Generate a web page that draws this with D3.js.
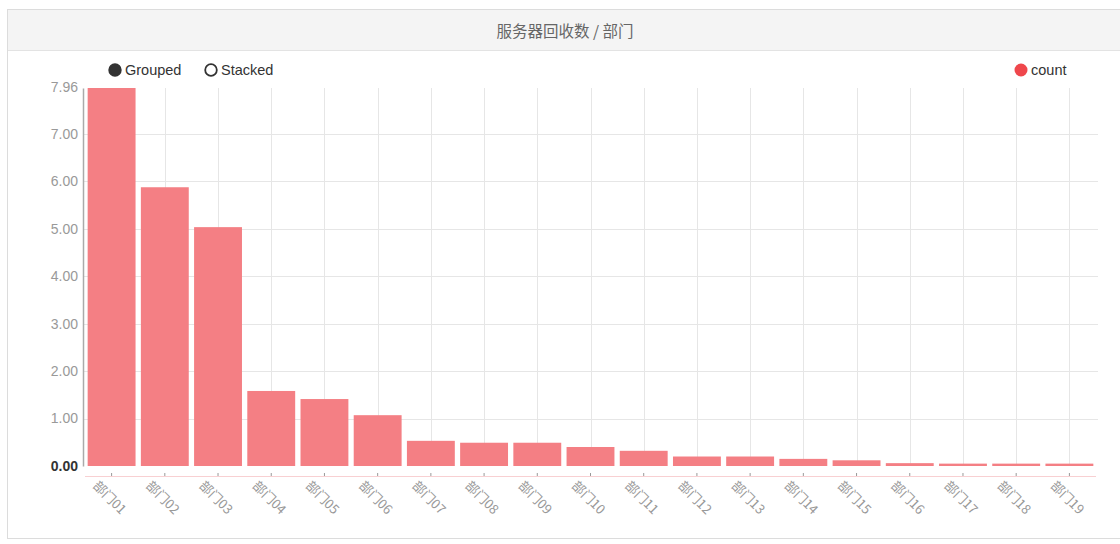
<!DOCTYPE html>
<html>
<head>
<meta charset="utf-8">
<script src="https://cdn.jsdelivr.net/npm/d3@7"></script>
<style>
  body { margin: 0; background: #fff; font-family: "Liberation Sans", Arial, sans-serif; }
</style>
</head>
<body>
<div id="holder"></div>
<script>
const w = 1120;
const h = 544;

// Data (department names are redacted in the source, placeholders used)
const departments = ["部门01", "部门02", "部门03", "部门04", "部门05", "部门06", "部门07",
  "部门08", "部门09", "部门10", "部门11", "部门12", "部门13", "部门14", "部门15",
  "部门16", "部门17", "部门18", "部门19"];
const counts = [7.96, 5.87, 5.03, 1.58, 1.41, 1.07, 0.53, 0.49, 0.49, 0.40,
  0.32, 0.20, 0.20, 0.15, 0.12, 0.06, 0.05, 0.05, 0.05];
const yTicks = [0, 1, 2, 3, 4, 5, 6, 7];
const seriesName = "count";
const title = "服务器回收数 / 部门";

const svg = d3.select("#holder")
  .append("svg")
  .attr("width", w)
  .attr("height", h)

// Panel + header
svg.append("rect")
  .attr("x", 7.5).attr("y", 9.5)
  .attr("width", 1130).attr("height", 529)
  .attr("fill", "#fff")
  .attr("stroke", "#dcdcdc")

svg.append("rect")
  .attr("x", 8).attr("y", 10)
  .attr("width", 1130).attr("height", 40)
  .attr("fill", "#f4f4f4")

svg.append("line")
  .attr("x1", 8).attr("x2", 1138)
  .attr("y1", 50.5).attr("y2", 50.5)
  .attr("stroke", "#e3e3e3")

svg.append("text")
  .attr("x", 565).attr("y", 37)
  .attr("text-anchor", "middle")
  .style("font-family", "'Noto Sans CJK SC', sans-serif")
  .style("font-size", "15.5px")
  .attr("fill", "#666")
  .text(title)

// Scales
const x = d3.scaleBand()
  .domain(departments)
  .range([85, 1096])
  .paddingInner(0.1)
  .paddingOuter(0.05)

const y = d3.scaleLinear()
  .domain([0, d3.max(counts)])
  .range([466, 88])

// Grid lines
svg.append("g")
  .selectAll("line")
  .data(yTicks.filter(t => t > 0))
  .join("line")
  .attr("x1", 84).attr("x2", 1098)
  .attr("y1", d => Math.round(y(d)) + 0.5)
  .attr("y2", d => Math.round(y(d)) + 0.5)
  .attr("stroke", "#e6e6e6")

svg.append("g")
  .selectAll("line")
  .data(departments)
  .join("line")
  .attr("x1", d => Math.round(x(d) + x.bandwidth() / 2) + 0.5)
  .attr("x2", d => Math.round(x(d) + x.bandwidth() / 2) + 0.5)
  .attr("y1", 88).attr("y2", 466)
  .attr("stroke", "#e6e6e6")

// Y axis
const yAxis = d3.axisLeft(y)
  .tickValues(yTicks)
  .tickSize(0)
  .tickPadding(5)
  .tickFormat(d3.format(".2f"))

svg.append("g")
  .attr("transform", "translate(83,0)")
  .call(yAxis)
  .call(g => g.select(".domain").attr("stroke", "#aaa").attr("stroke-width", 1.5))
  .call(g => g.selectAll("text")
    .style("font-size", "14px")
    .style("font-family", "'Liberation Sans', Arial, sans-serif")
    .attr("fill", "#999"))
  .call(g => g.selectAll(".tick").filter(d => d === 0).select("text")
    .attr("fill", "#333").style("font-weight", "bold"))

// max label at top
svg.append("text")
  .attr("x", 78).attr("y", y(d3.max(counts)))
  .attr("dy", "0.32em")
  .attr("text-anchor", "end")
  .style("font-size", "14px")
  .attr("fill", "#999")
  .text(d3.format(".2f")(d3.max(counts)))

// Bars
svg.append("g")
  .selectAll("rect")
  .data(counts)
  .join("rect")
  .attr("x", (d, i) => x(departments[i]))
  .attr("y", d => y(d))
  .attr("width", x.bandwidth())
  .attr("height", d => y(0) - y(d))
  .attr("fill", "#f47f84")

// X axis
const xAxis = d3.axisBottom(x)
  .tickSize(3)
  .tickPadding(4)

svg.append("g")
  .attr("transform", "translate(0,473)")
  .call(xAxis)
  .call(g => g.select(".domain").attr("stroke", "#f8d0d2").attr("d", "M85,3.5H1096"))
  .call(g => g.selectAll(".tick line").attr("stroke", "#999"))
  .call(g => g.selectAll("text")
    .style("font-family", "'Noto Sans CJK SC', sans-serif")
    .style("font-size", "13px")
    .attr("fill", "#999")
    .attr("text-anchor", "start")
    .attr("transform", "translate(-8,2) rotate(45)"))

// Legends
const modes = [
  { label: "Grouped", cx: 115, filled: true },
  { label: "Stacked", cx: 211, filled: false }
];

svg.append("g")
  .selectAll("circle")
  .data(modes)
  .join("circle")
  .attr("cx", d => d.cx).attr("cy", 70).attr("r", 5.8)
  .attr("fill", d => d.filled ? "#333" : "#fff")
  .attr("stroke", "#333")
  .attr("stroke-width", 1.8)

svg.append("g")
  .selectAll("text")
  .data(modes)
  .join("text")
  .attr("x", d => d.cx + 10).attr("y", 70)
  .attr("dy", "0.35em")
  .style("font-size", "14.5px")
  .attr("fill", "#333")
  .text(d => d.label)

svg.append("circle")
  .attr("cx", 1021).attr("cy", 70).attr("r", 6.5)
  .attr("fill", "#ef474c")

svg.append("text")
  .attr("x", 1031).attr("y", 70)
  .attr("dy", "0.35em")
  .style("font-size", "14.5px")
  .attr("fill", "#333")
  .text(seriesName)
</script>
</body>
</html>
